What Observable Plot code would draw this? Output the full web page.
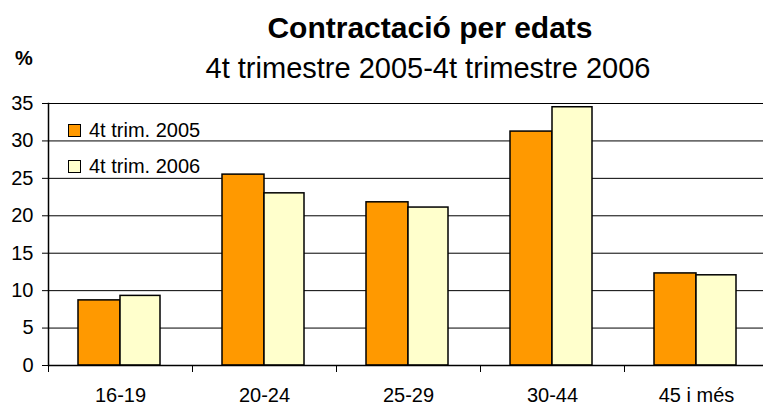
<!DOCTYPE html>
<html>
<head>
<meta charset="utf-8">
<script src="https://cdn.jsdelivr.net/npm/d3@7"></script>
<script src="https://cdn.jsdelivr.net/npm/@observablehq/plot@0.6"></script>
<style>
  body { margin: 0; background: #fff; font-family: Arial, "Liberation Sans", sans-serif; }
  #wrap { position: relative; width: 763px; height: 405px; overflow: hidden; }
  .abs { position: absolute; white-space: nowrap; color: #000; }
  .title { font-weight: bold; font-size: 30px; line-height: 30px; top: 13px; left: 430px; transform: translateX(-50%); }
  .subtitle { font-size: 29px; line-height: 29px; top: 54px; left: 428px; transform: translateX(-50%); }
  .unit { font-weight: bold; font-size: 20px; line-height: 20px; top: 48px; left: 24px; transform: translateX(-50%); }
  .leg { font-size: 20px; line-height: 20px; left: 68px; display: flex; align-items: center; }
  .sw { width: 11px; height: 11px; border: 1px solid #000; margin-right: 8px; }
  svg { position: absolute; left: 0; top: 0; }
</style>
</head>
<body>
<div id="wrap"></div>
<script>
const title = "Contractació per edats";
const subtitle = "4t trimestre 2005-4t trimestre 2006";
const unitLabel = "%";
const categories = ["16-19", "20-24", "25-29", "30-44", "45 i més"];
const series = ["4t trim. 2005", "4t trim. 2006"];
const values2005 = [8.7, 25.5, 21.8, 31.25, 12.3];
const values2006 = [9.3, 23.0, 21.1, 34.5, 12.05];
const yTicks = [0, 5, 10, 15, 20, 25, 30, 35];
const colors = ["#FF9900", "#FFFFCC"];

const data = categories.map((c, i) => ({cat: c, a: values2005[i], b: values2006[i]}));

const chart = Plot.plot({
  width: 763,
  height: 405,
  marginTop: 103,
  marginBottom: 40,
  marginLeft: 48,
  marginRight: 0,
  style: {fontFamily: "Arial, 'Liberation Sans', sans-serif", fontSize: "20px", color: "#000", background: "transparent", overflow: "visible"},
  x: {domain: categories, range: [48, 768], padding: 0, label: null},
  y: {domain: [0, 35], label: null},
  marks: [
    Plot.ruleY(yTicks.filter(d => d > 0), {stroke: "#000", strokeWidth: 1}),
    Plot.barY(data, {x: "cat", y: "a", fill: colors[0], stroke: "#000", strokeWidth: 1.5, insetLeft: 30, insetRight: 72}),
    Plot.barY(data, {x: "cat", y: "b", fill: colors[1], stroke: "#000", strokeWidth: 1.5, insetLeft: 72, insetRight: 32}),
    Plot.ruleY([0], {stroke: "#000", strokeWidth: 1.5}),
    Plot.frame({anchor: "left", stroke: "#000", strokeWidth: 1.5}),
    Plot.axisY({ticks: yTicks, tickSize: 6, tickPadding: 9, fontSize: 20, label: null, stroke: "#000"}),
    Plot.axisX({ticks: categories, tickSize: 7, tickFormat: () => "", dx: -72, label: null, stroke: "#000"}),
    Plot.axisX({ticks: categories, tickSize: 0, tickPadding: 22, fontSize: 20, label: null})
  ]
});

const wrap = document.getElementById("wrap");
wrap.appendChild(chart);
function addDiv(cls, text) {
  const d = document.createElement("div");
  d.className = "abs " + cls;
  d.textContent = text;
  wrap.appendChild(d);
  return d;
}
addDiv("title", title);
addDiv("subtitle", subtitle);
addDiv("unit", unitLabel);
series.forEach((s, i) => {
  const d = document.createElement("div");
  d.className = "abs leg";
  d.style.top = (120 + i * 36) + "px";
  const sw = document.createElement("span");
  sw.className = "sw";
  sw.style.background = colors[i];
  const t = document.createElement("span");
  t.textContent = s;
  d.appendChild(sw);
  d.appendChild(t);
  wrap.appendChild(d);
});
</script>
</body>
</html>
